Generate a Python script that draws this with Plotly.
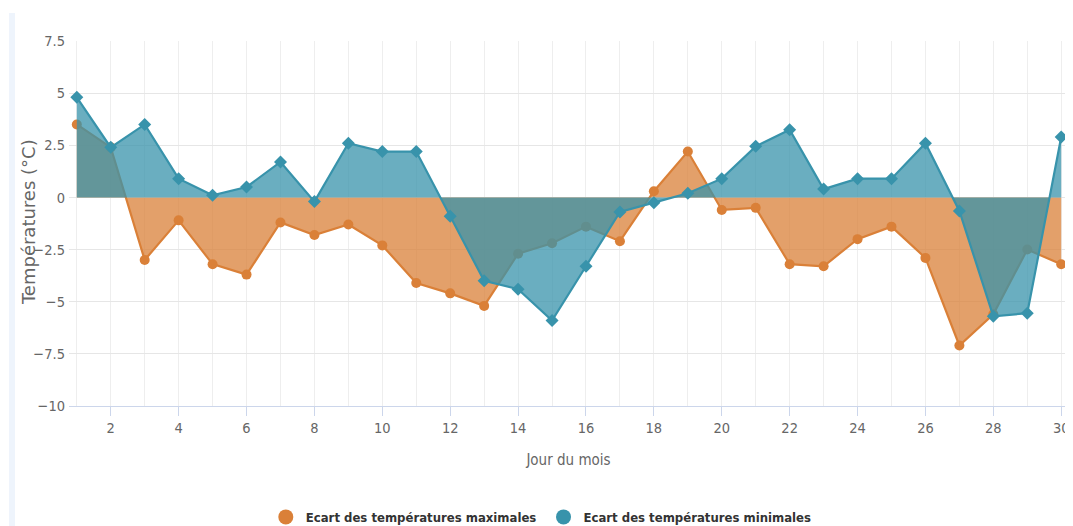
import plotly.graph_objects as go

days = list(range(1, 31))
ecart_max = [3.5, 2.4, -3.0, -1.1, -3.2, -3.7, -1.2, -1.8, -1.3, -2.3,
             -4.1, -4.6, -5.2, -2.7, -2.2, -1.4, -2.1, 0.3, 2.2, -0.6,
             -0.5, -3.2, -3.3, -2.0, -1.4, -2.9, -7.1, -5.6, -2.5, -3.2]
ecart_min = [4.8, 2.4, 3.5, 0.9, 0.1, 0.5, 1.7, -0.2, 2.6, 2.2,
             2.2, -0.9, -4.0, -4.4, -5.9, -3.3, -0.7, -0.25, 0.2, 0.9,
             2.45, 3.25, 0.4, 0.9, 0.9, 2.6, -0.65, -5.7, -5.55, 2.9]
y_ticks = [-10, -7.5, -5, -2.5, 0, 2.5, 5, 7.5]
y_tick_text = ["−10", "−7.5", "−5", "−2.5", "0", "2.5", "5", "7.5"]
x_ticks = list(range(2, 31, 2))

name_max = "Ecart des températures maximales"
name_min = "Ecart des températures minimales"

orange = "#da8038"
blue = "#3893ab"

narrow = "Liberation Sans Narrow, DejaVu Sans Condensed, Roboto Condensed, Liberation Sans, sans-serif"

fig = go.Figure()
fig.add_trace(go.Scatter(
    x=days, y=ecart_max, name=name_max, mode="lines+markers",
    fill="tozeroy", fillcolor="rgba(218,128,56,0.75)",
    line=dict(color=orange, width=2.2),
    marker=dict(symbol="circle", size=10, color=orange),
    showlegend=False,
))
fig.add_trace(go.Scatter(
    x=days, y=ecart_min, name=name_min, mode="lines+markers",
    fill="tozeroy", fillcolor="rgba(56,147,171,0.75)",
    line=dict(color=blue, width=2.2),
    marker=dict(symbol="diamond", size=10, color=blue),
    showlegend=False,
))
# legend entries (circle symbols only, as in the reference)
fig.add_trace(go.Scatter(x=[None], y=[None], name=name_max, mode="markers",
                         marker=dict(symbol="circle", size=15, color=orange), legend="legend"))
fig.add_trace(go.Scatter(x=[None], y=[None], name=name_min, mode="markers",
                         marker=dict(symbol="circle", size=15, color=blue), legend="legend2"))

tick_font = dict(family=narrow, size=14.5, color="#666666")
legend_font = dict(family=narrow, size=13, color="#333333", weight="bold")

# page has an 8px body margin: figure is placed at (8, 8)
fig.update_layout(
    width=1065, height=518,
    margin=dict(l=61, r=5, t=33, b=120, autoexpand=False),
    paper_bgcolor="white", plot_bgcolor="white",
    showlegend=True,
    legend=dict(orientation="h", x=0.197, xanchor="left", y=-0.304, yanchor="middle",
                font=legend_font, itemsizing="trace", itemwidth=30,
                bgcolor="rgba(0,0,0,0)"),
    legend2=dict(orientation="h", x=0.475, xanchor="left", y=-0.304, yanchor="middle",
                 font=legend_font, itemsizing="trace", itemwidth=30,
                 bgcolor="rgba(0,0,0,0)"),
    xaxis=dict(
        range=[0.77, 30.2], tickmode="array", tickvals=x_ticks,
        ticktext=[str(v) for v in x_ticks],
        tickfont=tick_font, showgrid=True, gridcolor="#eeeeee", gridwidth=1,
        minor=dict(dtick=1, showgrid=True, gridcolor="#eeeeee", tick0=1),
        showline=True, linecolor="#ccd6eb", linewidth=1,
        ticks="outside", ticklen=9, tickcolor="#ccd6eb",
        zeroline=False, automargin=False,
        title=dict(text="Jour du mois", font=dict(family=narrow, size=15, color="#666666"),
                   standoff=19),
    ),
    yaxis=dict(
        range=[-10, 7.5], tickmode="array", tickvals=y_ticks, ticktext=y_tick_text,
        tickfont=tick_font, showgrid=True, gridcolor="#e6e6e6", gridwidth=1,
        zeroline=False, ticks="", ticklabelstandoff=3, automargin=False,
    ),
    annotations=[dict(text="Températures (°C)", xref="paper", yref="paper",
                      x=-0.041, y=0.504, xanchor="center", yanchor="middle",
                      textangle=-90, showarrow=False,
                      font=dict(family="DejaVu Sans, sans-serif", size=18, color="#666666"))],
    shapes=[dict(type="rect", xref="paper", yref="paper", x0=-0.06, x1=-0.054,
                 y0=-0.33, y1=1.077, fillcolor="#eef4fc", line=dict(width=0), layer="below")],
)

fig.write_html("out.html")
